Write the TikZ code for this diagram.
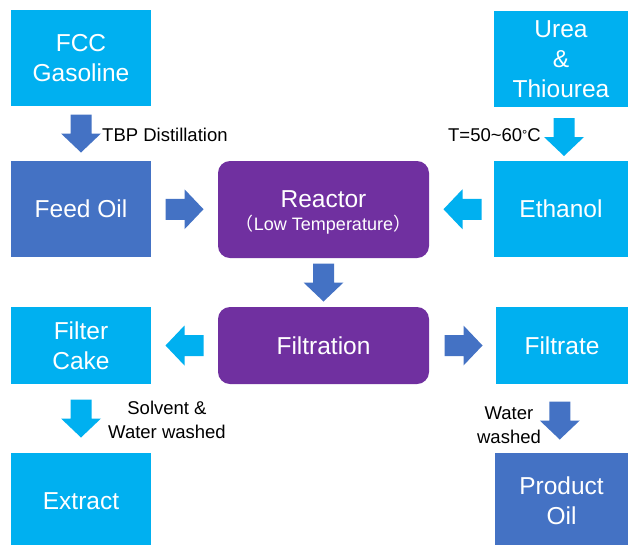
\documentclass[tikz,border=0pt]{standalone}
\usepackage{fontspec}
\setmainfont{Liberation Sans}
\newfontfamily\cjk{Noto Sans CJK SC}
\usetikzlibrary{calc}
\definecolor{cyanbox}{HTML}{00B0F0}
\definecolor{bluebox}{HTML}{4472C4}
\definecolor{purplebox}{HTML}{7030A0}
\newcommand\blockarrow[3]{%
  \fill[#1, shift={#2}, rotate=#3] (-19,-10.5) -- (0,-10.5) -- (0,-20) -- (19,0) -- (0,20) -- (0,10.5) -- (-19,10.5) -- cycle;}
\tikzset{
  box/.style={rectangle, inner sep=0pt, align=center, text=white,
    font=\fontsize{24.5}{30}\selectfont},
  cyanb/.style={box, fill=cyanbox},
  blueb/.style={box, fill=bluebox},
  purpleb/.style={box, fill=purplebox, rounded corners=12pt},
  lbl/.style={inner sep=0pt, align=center, text=black,
    font=\fontsize{18.5}{24}\selectfont},
}
\begin{document}
\begin{tikzpicture}[x=1pt, y=-1pt]
\useasboundingbox (0,0) rectangle (629,544);
\clip (0,0) rectangle (629,544);
\fill[white] (0,0) rectangle (629,544);

\node[cyanb, minimum width=140pt, minimum height=96pt] (fcc) at (81,58) {FCC\\Gasoline};
\node[blueb, minimum width=140pt, minimum height=96pt] (feed) at (81,209) {Feed Oil};
\node[purpleb, minimum width=211pt, minimum height=97pt] (reactor) at (323.5,209.5) {};
\node[text=white, inner sep=0pt, font=\fontsize{24.5}{30}\selectfont] (reactortitle) at (323.5,199) {Reactor};
\node[text=white, inner sep=0pt, font=\fontsize{18}{22}\selectfont] (reactorsub) at (323.5,225) {{\cjk （}Low Temperature{\cjk ）}};
\node[cyanb, minimum width=134pt, minimum height=96pt] (urea) at (561,59) {Urea\\\&\\Thiourea};
\node[cyanb, minimum width=134pt, minimum height=96pt] (ethanol) at (561,209) {Ethanol};

\node[cyanb, minimum width=140pt, minimum height=77pt] (cake) at (81,345.5) {Filter\\Cake};
\node[purpleb, minimum width=211pt, minimum height=77pt] (filtration) at (323.5,345.5) {Filtration};
\node[cyanb, minimum width=132pt, minimum height=77pt] (filtrate) at (562,345.5) {Filtrate};

\node[cyanb, minimum width=140pt, minimum height=96pt] (extract) at (81,501) {Extract};
\node[blueb, minimum width=133pt, minimum height=96pt] (product) at (561.5,501) {Product\\Oil};

% block arrows between the boxes
\blockarrow{bluebox}{($(fcc.south)!0.5!(feed.north)$)}{-90}
\blockarrow{bluebox}{($(feed.east)!0.5!(reactor.west)$)}{0}
\blockarrow{cyanbox}{($($(urea.south)!0.5!(ethanol.north)$)+(3,3)$)}{-90}
\blockarrow{cyanbox}{($(ethanol.west)!0.5!(reactor.east)+(1,0)$)}{180}
\blockarrow{bluebox}{($(reactor.south)!0.5!(filtration.north)$)}{-90}
\blockarrow{cyanbox}{($(filtration.west)!0.5!(cake.east)$)}{180}
\blockarrow{bluebox}{($(filtration.east)!0.5!(filtrate.west)+(1,0)$)}{0}
\blockarrow{cyanbox}{($(cake.south)!0.5!(extract.north)$)}{-90}
\blockarrow{bluebox}{($($(filtrate.south)!0.5!(product.north)$)+(-2,2)$)}{-90}

% labels
\node[lbl, anchor=west] (tbp) at (102,135) {TBP Distillation};
\node[lbl, anchor=east] (temp) at (541,135) {T=50\textasciitilde 60{\fontsize{13}{13}\selectfont\raisebox{1.5pt}{°}}C};
\node[lbl] (solvent) at (167,420) {Solvent \&\\Water washed};
\node[lbl] (water) at (509,425) {Water\\washed};
\end{tikzpicture}
\end{document}
